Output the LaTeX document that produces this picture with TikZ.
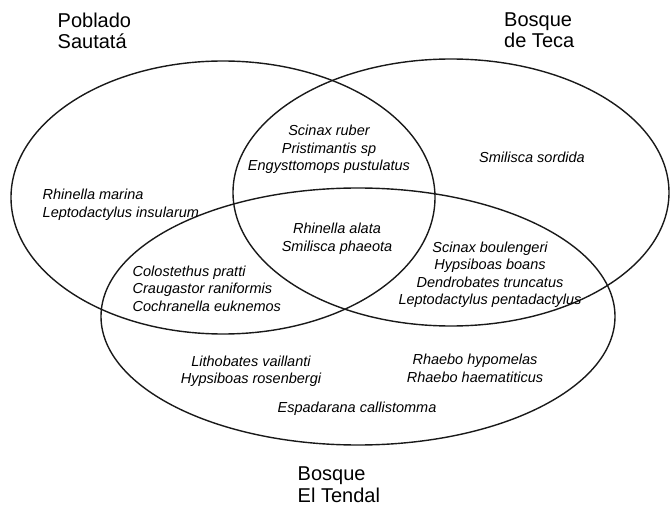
\documentclass[tikz,border=0pt]{standalone}
\usepackage{fontspec}
\setmainfont{Liberation Sans}
\usepackage{tikz}

\begin{document}
\begin{tikzpicture}[
  x=1pt, y=-1pt,
  zone/.style={draw, line width=1.4pt, black!90},
  site/.style={inner sep=0pt, align=left, anchor=north west,
               font=\fontsize{20}{21.5}\selectfont},
  species/.style={inner sep=0pt, align=center, anchor=north,
                  font=\fontsize{14.5}{17.5}\selectfont\itshape}
]
\useasboundingbox (0,0) rectangle (670,508);

% the three sites
\draw[zone] (223,197.5) ellipse [x radius=212pt, y radius=136.5pt];
\draw[zone] (451,192.5) ellipse [x radius=218pt, y radius=133.5pt];
\draw[zone] (358,316.5) ellipse [x radius=257pt, y radius=128.5pt];

\node[site] (poblado) at (57.5,12.5) {Poblado\\Sautatá};
\node[site] (teca)    at (504,12.5)  {Bosque\\de Teca};
\node[site] (tendal)  at (297.5,467) {Bosque\\El Tendal};

% species by region
\node[species, anchor=north west, align=left] (onlyPoblado) at (42.5,189)
  {Rhinella marina\\Leptodactylus insularum};
\node[species] (pobladoTeca) at (329,125)
  {Scinax ruber\\Pristimantis sp\\Engysttomops pustulatus};
\node[species] (onlyTeca) at (532,151.5) {Smilisca sordida};
\node[species] (allThree) at (337,223)
  {Rhinella alata\\Smilisca phaeota};
\node[species] (tecaTendal) at (490,241.5)
  {Scinax boulengeri\\Hypsiboas boans\\Dendrobates truncatus\\Leptodactylus pentadactylus};
\node[species, anchor=north west, align=left] (pobladoTendal) at (132.5,265.5)
  {Colostethus pratti\\Craugastor raniformis\\Cochranella euknemos};
\node[species] (onlyTendalA) at (251,355.5)
  {Lithobates vaillanti\\Hypsiboas rosenbergi};
\node[species] (onlyTendalB) at (475,354)
  {Rhaebo hypomelas\\Rhaebo haematiticus};
\node[species] (onlyTendalC) at (357,402) {Espadarana callistomma};
\end{tikzpicture}
\end{document}
